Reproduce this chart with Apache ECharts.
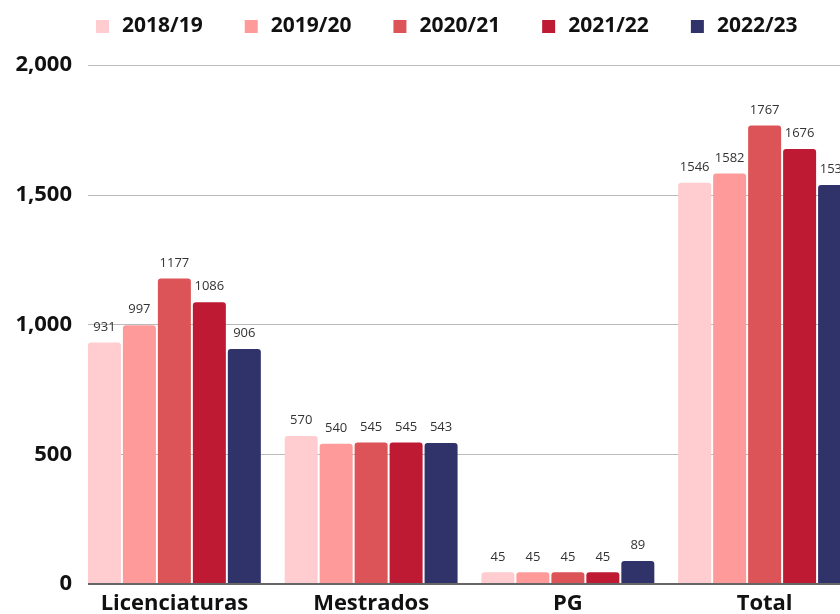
<!DOCTYPE html>
<html>
<head>
<meta charset="utf-8">
<script src="https://cdn.jsdelivr.net/npm/echarts@6/dist/echarts.min.js"></script>
<style>
  html, body { margin: 0; padding: 0; background: #fff; }
  #chart { width: 840px; height: 614px; }
</style>
</head>
<body>
<div id="chart"></div>
<script>
// categorias e valores por ano letivo
var categories = ['Licenciaturas', 'Mestrados', 'PG', 'Total'];
var years = ['2018/19', '2019/20', '2020/21', '2021/22', '2022/23'];
var v2018 = [931, 570, 45, 1546];
var v2019 = [997, 540, 45, 1582];
var v2020 = [1177, 545, 45, 1767];
var v2021 = [1086, 545, 45, 1676];
var v2022 = [906, 543, 89, 1538];
var colors = ['#FFCCCF', '#FF9A9A', '#DC5457', '#BF1A33', '#2F3369'];

var values = [v2018, v2019, v2020, v2021, v2022];
var font = '"Open Sans", sans-serif';

var myChart = echarts.init(document.getElementById('chart'));

var series = years.map(function (y, i) {
    return {
        name: y,
        type: 'bar',
        data: values[i],
        barWidth: 33,
        barGap: '6%',
        itemStyle: { color: colors[i], borderRadius: [3, 3, 0, 0] },
        label: {
            show: true,
            position: 'top',
            distance: 9,
            fontFamily: font,
            fontSize: 13,
            color: '#333'
        }
    };
});

myChart.setOption({
    animation: false,
    color: colors,
    legend: {
        top: 11,
        left: 91,
        itemWidth: 13,
        itemHeight: 13,
        itemGap: 42,
        icon: 'rect',
        textStyle: {
            fontFamily: font, fontSize: 21, fontWeight: 'bold', color: '#111',
            padding: [0, 0, 0, 8]
        },
        data: years
    },
    grid: [
        { left: 76, width: 787, top: 65, bottom: 30, outerBoundsMode: 'none' },
        { left: 88, right: 0, top: 65, bottom: 30, outerBoundsMode: 'none' }
    ],
    xAxis: [{
        type: 'category',
        gridIndex: 0,
        data: categories,
        axisTick: { show: false },
        axisLine: { show: false },
        axisLabel: {
            interval: 0,
            fontFamily: font, fontSize: 22, fontWeight: 'bold', color: '#111', margin: 9
        }
    }, {
        type: 'value',
        gridIndex: 1,
        show: false
    }],
    yAxis: [{
        type: 'value',
        gridIndex: 0,
        min: 0,
        max: 2000,
        interval: 500,
        splitLine: { show: false },
        axisLabel: {
            fontFamily: font, fontSize: 22, fontWeight: 'bold', color: '#111', margin: 4,
            formatter: function (v) { return v.toLocaleString('en-US'); }
        }
    }, {
        type: 'value',
        gridIndex: 1,
        min: 0,
        max: 2000,
        interval: 500,
        axisLabel: { show: false },
        axisLine: { show: true, onZero: false, lineStyle: { color: 'transparent' } },
        splitLine: { lineStyle: { color: '#bbb', width: 1 } }
    }],
    series: series.concat([{
        type: 'line',
        xAxisIndex: 1,
        yAxisIndex: 1,
        data: [],
        markLine: {
            silent: true,
            symbol: 'none',
            label: { show: false },
            lineStyle: { color: '#666', width: 2, type: 'solid' },
            data: [{ yAxis: 0 }]
        }
    }])
});
</script>
</body>
</html>
